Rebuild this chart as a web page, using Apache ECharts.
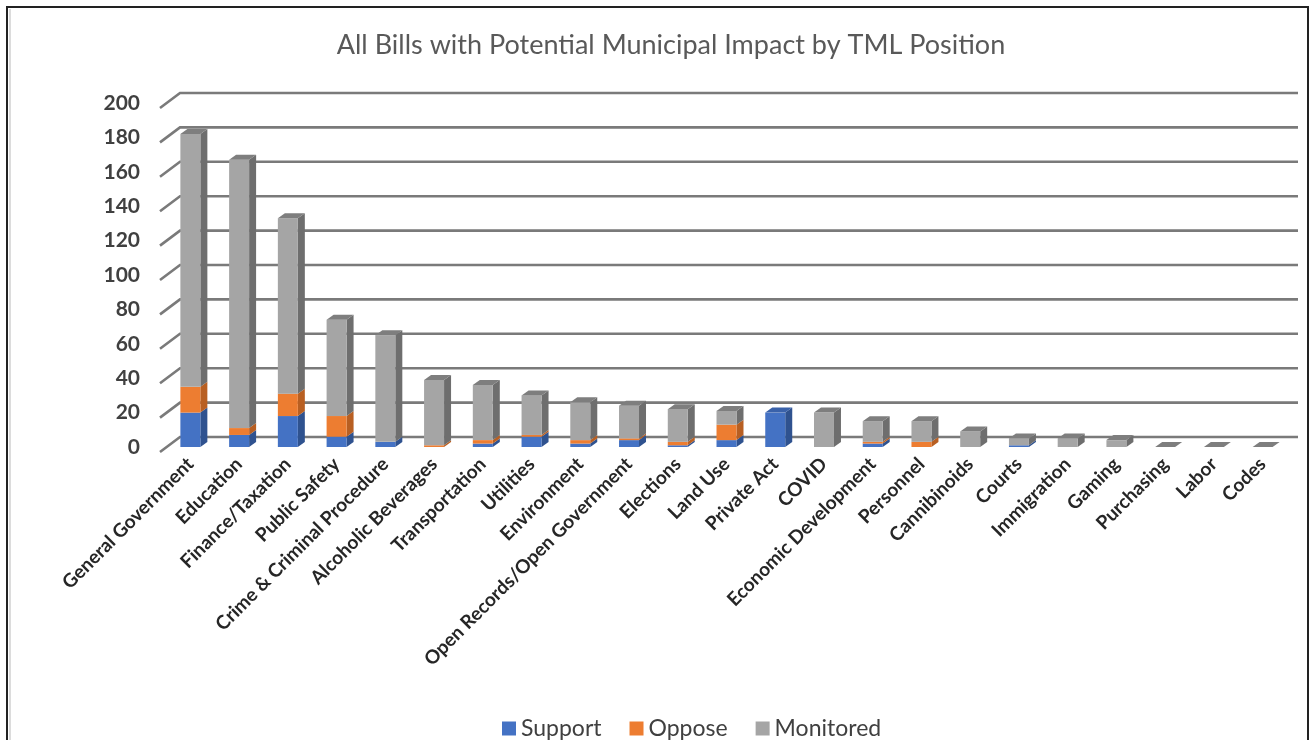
<!DOCTYPE html>
<html>
<head>
<meta charset="utf-8">
<script src="https://cdn.jsdelivr.net/npm/echarts@6/dist/echarts.min.js"></script>
<style>
html,body{margin:0;padding:0;background:#fff;}
#chart{width:1311px;height:740px;}
</style>
</head>
<body>
<div id="chart"></div>
<script>
const categories = ['General Government','Education','Finance/Taxation','Public Safety','Crime & Criminal Procedure','Alcoholic Beverages','Transportation','Utilities','Environment','Open Records/Open Government','Elections','Land Use','Private Act','COVID','Economic Development','Personnel','Cannibinoids','Courts','Immigration','Gaming','Purchasing','Labor','Codes'];
const support   = [20, 7, 18, 6, 3, 0, 2, 6, 2, 4, 1, 4, 20, 0, 2, 0, 0, 1, 0, 0, 0, 0, 0];
const oppose    = [15, 4, 13, 12, 0, 1, 2, 1, 2, 1, 2, 9, 0, 0, 1, 3, 0, 0, 0, 0, 0, 0, 0];
const monitored = [147, 156, 102, 56, 62, 38, 32, 23, 22, 19, 19, 8, 0, 20, 12, 12, 9, 4, 5, 4, 0, 0, 0];
const yTicks = [0, 20, 40, 60, 80, 100, 120, 140, 160, 180, 200];
const seriesNames = ['Support', 'Oppose', 'Monitored'];

// styles
const faces = {
  Support:   {front: '#4472C4', side: '#2F528F', top: '#3A62AA'},
  Oppose:    {front: '#ED7D31', side: '#B85F22', top: '#C8692A'},
  Monitored: {front: '#A5A5A5', side: '#6E6E6E', top: '#7E7E7E'}
};
const DX = 7, DY = 5;

const values = [support, oppose, monitored];
function buildData(k) {
  return categories.map((c, i) => {
    let base = 0;
    for (let j = 0; j < k; j++) base += values[j][i];
    const top = base + values[k][i];
    let isTop = 0;
    const total = support[i] + oppose[i] + monitored[i];
    if (total === 0) { isTop = (k === 2) ? 1 : 0; }
    else if (values[k][i] > 0) {
      let above = 0;
      for (let j = k + 1; j < 3; j++) above += values[j][i];
      isTop = above === 0 ? 1 : 0;
    }
    return [i, base, top, isTop];
  });
}

function makeRender(name) {
  const f = faces[name];
  return function (params, api) {
    const i = api.value(0), b = api.value(1), t = api.value(2), isTop = api.value(3);
    if (t <= b && !isTop) return null;
    const p0 = api.coord([i, b]);
    const p1 = api.coord([i, t]);
    const bw = api.size([1, 0])[0] * 0.41;
    const x0 = p0[0] - bw / 2, x1 = p0[0] + bw / 2;
    const yb = p0[1], yt = p1[1];
    const children = [];
    if (t > b) {
      children.push({type: 'polygon', shape: {points: [[x1, yb], [x1 + DX, yb - DY], [x1 + DX, yt - DY], [x1, yt]]}, style: {fill: f.side}});
      children.push({type: 'rect', shape: {x: x0, y: yt, width: bw, height: yb - yt}, style: {fill: f.front}});
    }
    if (isTop) {
      children.push({type: 'polygon', shape: {points: [[x0, yt], [x1, yt], [x1 + DX, yt - DY], [x0 + DX, yt - DY]]}, style: {fill: f.top}});
    }
    return {type: 'group', children: children};
  };
}

const chart = echarts.init(document.getElementById('chart'));
const series = [{
  type: 'custom',
  name: 'grid',
  z: 1,
  clip: false,
  silent: true,
  data: yTicks.map(v => [0, v]),
  renderItem: function (params, api) {
    const cs = params.coordSys;
    const y = api.coord([0, api.value(1)])[1];
    return {
      type: 'polyline',
      shape: {points: [[cs.x - 6, y + 5], [cs.x + 14, y - 10], [cs.x + cs.width + 11, y - 10]]},
      style: {stroke: '#7a7a7a', lineWidth: 2.6, fill: null}
    };
  }
}];
seriesNames.forEach((n, k) => {
  series.push({
    type: 'custom',
    name: n,
    z: 3,
    clip: false,
    itemStyle: {color: faces[n].front},
    data: buildData(k),
    renderItem: makeRender(n)
  });
});

chart.setOption({
  animation: false,
  backgroundColor: '#fff',
  title: {
    text: 'All Bills with Potential Municipal Impact by TML Position',
    left: 666, top: 27, textAlign: 'center',
    textStyle: {fontFamily: 'Lato', fontSize: 27, fontWeight: 'normal', color: '#595959'}
  },
  legend: {
    data: seriesNames,
    left: 497, top: 712,
    icon: 'rect', itemWidth: 14, itemHeight: 14, itemGap: 28,
    textStyle: {fontFamily: 'Lato', fontSize: 23, color: '#404040'}
  },
  grid: {left: 166, right: 24, top: 103, bottom: 293},
  xAxis: {
    type: 'category',
    data: categories,
    axisLine: {show: false}, axisTick: {show: false},
    axisLabel: {interval: 0, rotate: 45, margin: 14, fontFamily: 'Lato', fontWeight: 'bold', fontSize: 19, color: '#262626'}
  },
  yAxis: {
    type: 'value', min: 0, max: 200, interval: 20,
    splitLine: {show: false}, axisLine: {show: false}, axisTick: {show: false},
    axisLabel: {margin: 26, fontFamily: 'Lato', fontWeight: 'bold', fontSize: 21, color: '#404040', padding: [8, 0, 0, 0]}
  },
  graphic: [
    {type: 'rect', shape: {x: 7, y: 7, width: 1301, height: 760}, style: {fill: null, stroke: '#222', lineWidth: 2}, z: 10},
    {type: 'line', shape: {x1: 10, y1: 9, x2: 10, y2: 740}, style: {stroke: '#dcdcdc', lineWidth: 2}, z: 10}
  ],
  series: series
});
</script>
</body>
</html>
